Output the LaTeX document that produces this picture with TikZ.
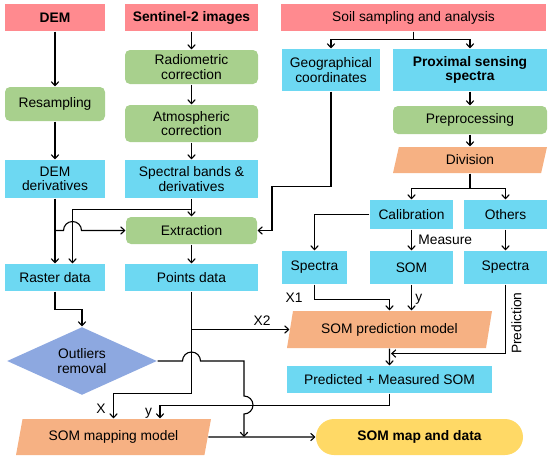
\documentclass[tikz,border=0pt]{standalone}
\usepackage{fontspec}
\setmainfont{Liberation Sans}
\usepackage{tikz}
\usepackage{xcolor}
\usetikzlibrary{shapes.geometric,arrows.meta,calc}

\definecolor{srcpink}{HTML}{FF8A8F}
\definecolor{stepgreen}{HTML}{A8D08D}
\definecolor{datacyan}{HTML}{6DD8F2}
\definecolor{modelorange}{HTML}{F6B183}
\definecolor{checkblue}{HTML}{8DA8E0}
\definecolor{outyellow}{HTML}{FFD966}

\begin{document}
\begin{tikzpicture}[x=1pt, y=-1pt, line width=1.1pt,
        font=\fontsize{13.8}{14.5}\selectfont,
        >={Straight Barb[length=4pt,width=7.5pt]},
        srcbox/.style={rectangle, fill=srcpink, inner sep=0pt, minimum height=27pt},
        stepbox/.style={rectangle, rounded corners=5pt, fill=stepgreen, inner sep=0pt, align=center},
        databox/.style={rectangle, fill=datacyan, inner sep=0pt, align=center},
        modelbox/.style={trapezium, trapezium stretches body, fill=modelorange, inner sep=0pt}]
    \useasboundingbox (0,0) rectangle (550,459);

    % inputs
    \node (dem)  at ( 55.0, 17.5) [srcbox, minimum width=100pt] {\textbf{DEM}};
    \node (sen)  at (191.5, 17.5) [srcbox, minimum width=133pt] {\textbf{Sentinel-2 images}};
    \node (soil) at (413.5, 17.5) [srcbox, minimum width=265pt] {Soil sampling and analysis};

    % DEM and image branch
    \node (resamp) at ( 55.0, 104.0) [stepbox, minimum width=100pt, minimum height=34pt] {Resampling};
    \node (radio)  at (191.5,  67.0) [stepbox, minimum width=133pt, minimum height=34pt] {Radiometric\\correction};
    \node (atmo)   at (191.5, 123.5) [stepbox, minimum width=133pt, minimum height=37pt] {Atmospheric\\correction};
    \node (demder) at ( 55.0, 179.0) [databox, minimum width=100pt, minimum height=38pt] {DEM\\derivatives};
    \node (bands)  at (191.5, 179.0) [databox, minimum width=133pt, minimum height=38pt] {Spectral bands \&\\derivatives};
    \node (extr)   at (191.5, 230.5) [stepbox, minimum width=131pt, minimum height=27pt] {Extraction};
    \node (raster) at ( 55.0, 277.5) [databox, minimum width=100pt, minimum height=27pt] {Raster data};
    \node (points) at (191.5, 277.5) [databox, minimum width=133pt, minimum height=27pt] {Points data};

    % soil branch
    \node (geo)    at (331.0,  70.0) [databox, minimum width=98pt, minimum height=42pt] {Geographical\\coordinates};
    \node (prox)   at (470.0,  70.0) [databox, minimum width=154pt, minimum height=42pt] {\textbf{Proximal sensing}\\\textbf{spectra}};
    \node (prep)   at (470.0, 120.0) [stepbox, minimum width=154pt, minimum height=28pt] {Preprocessing};
    \node (divi)   at (470.0, 160.0) [modelbox, trapezium left angle=60, trapezium right angle=120,
                                      minimum width=154pt, minimum height=26pt] {Division};
    \node (calib)  at (411.5, 214.5) [databox, minimum width=83pt, minimum height=29pt] {Calibration};
    \node (others) at (505.5, 214.5) [databox, minimum width=83pt, minimum height=29pt] {Others};
    \node (specL)  at (314.5, 267.5) [databox, minimum width=65pt, minimum height=33pt] {Spectra};
    \node (som)    at (411.5, 267.5) [databox, minimum width=83pt, minimum height=33pt] {SOM};
    \node (specR)  at (505.5, 267.5) [databox, minimum width=83pt, minimum height=33pt] {Spectra};
    \node (spm)    at (389.5, 329.5) [modelbox, trapezium left angle=65, trapezium right angle=115,
                                      minimum width=205pt, minimum height=37pt] {SOM prediction model};
    \node (pms)    at (389.5, 379.5) [databox, minimum width=205pt, minimum height=27pt] {Predicted + Measured SOM};

    % mapping
    \node (outl) at ( 82.0, 361.0) [diamond, aspect=2.2, fill=checkblue, inner sep=0pt, align=center,
                                    minimum width=150pt, minimum height=68pt] {Outliers\\removal};
    \node (smm)  at (113.5, 437.0) [modelbox, trapezium left angle=63, trapezium right angle=117,
                                    minimum width=195pt, minimum height=36pt] {SOM mapping model};
    \node (map)  at (419.5, 437.0) [rectangle, rounded corners=18pt, fill=outyellow,
                                    minimum width=207pt, minimum height=36pt] {\textbf{SOM map and data}};

    \coordinate (jn)  at ($(spm.south)+(1.5,5)$);
    \coordinate (mrg) at (244,437);

    \draw[->] (dem) -- (resamp);
    \draw[->] (resamp) -- (demder);
    \draw[->] (sen) -- (radio);
    \draw[->] (radio) -- (atmo);
    \draw[->] (atmo) -- (bands);
    \draw[->] (bands) -- (extr);
    \draw[->] (extr) -- (points);
    \draw[->] (demder) -- (raster);
    \draw[->] ($(bands.south)+(0,11)$) -| ([xshift=17.5pt]raster.north);
    \draw[->] (demder.south |- extr.west) -- ++(8.5,0) arc[start angle=180, end angle=0, radius=9pt] -- (extr.west);
    \draw[->] (geo.south) -- ++(0,95) -- ++(-59,0) |- (extr.east);

    \draw[->] (soil.south) -- ++(0,8) -| (geo.north);
    \draw[->] (soil.south) -- ++(0,8) -| (prox.north);
    \draw[->] (prox) -- (prep);
    \draw[->] (prep) -- (divi);
    \draw[->] (divi.south) -- ++(0,15) -| (calib.north);
    \draw[->] (divi.south) -- ++(0,15) -| (others.north);
    \draw[->] (calib.west) -| (specL.north);
    \draw[->] (calib) -- (som) node[midway, right, xshift=3pt] {Measure};
    \draw[->] (others) -- (specR);

    \draw[->] (specL.south) -- ++(0,15) node[pos=0.9, left=8pt] {X1} -| (spm.north);
    \draw[->] (som.south) -- (som.south |- spm.north) node[midway, right, yshift=-2pt] {y};
    \draw[->] (specR.south) |- (jn) node[pos=0.28, rotate=90, anchor=north, yshift=-2pt] {Prediction};
    \draw[->] (spm) -- (pms);
    \draw[->] (points.south |- spm.west) -- (spm.west) node[pos=0.72, above] {X2};

    \draw[->] (raster.south) -- ++(0,18) -| (outl.north);
    \draw[->] (points.south) -- ++(0,102) -| (smm.north) node[pos=0.81, left=4pt] {X};
    \draw[->] (pms.south) -- ++(0,12) -| ([xshift=46.5pt]smm.north) node[pos=0.81, left=4pt] {y};
    \draw[->] (outl.east) -- ($(points.south |- outl.east)+(-9,0)$) arc[start angle=180, end angle=0, radius=9pt]
        -| ($(mrg)+(0,-41)$) arc[start angle=90, end angle=-90, radius=9pt] -- (mrg);
    \draw[->] (smm.east) -- (map.west);
\end{tikzpicture}
\end{document}
